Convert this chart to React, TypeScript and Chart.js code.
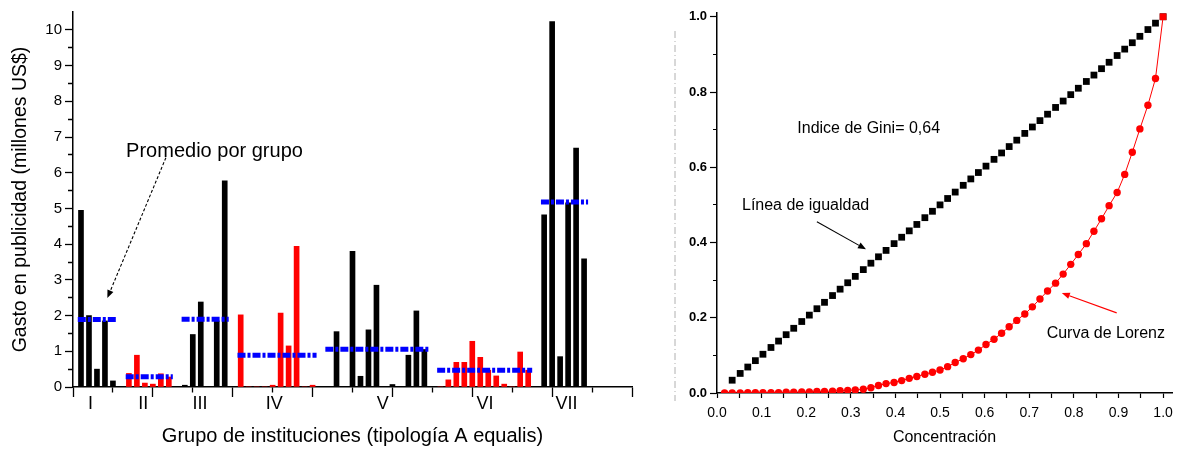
import React, { useEffect, useRef } from 'react';
import { Chart, registerables } from 'chart.js';

Chart.register(...registerables);

const FONT = '"Liberation Sans", Arial, Helvetica, sans-serif';

// ---------- Left panel: gasto en publicidad por institución ----------
const groupNames = ['I', 'II', 'III', 'IV', 'V', 'VI', 'VII'];
const gastoGrupoI = [4.95, 2.0, 0.5, 1.85, 0.17];
const gastoGrupoII = [0.38, 0.89, 0.11, 0.08, 0.37, 0.28];
const gastoGrupoIII = [0.05, 1.47, 2.38, 0, 1.85, 5.77];
const gastoGrupoIV = [2.02, 0, 0, 0, 0.05, 2.07, 1.15, 3.94, 0, 0.05];
const gastoGrupoV = [0, 1.55, 0, 3.8, 0.3, 1.6, 2.85, 0, 0.07, 0, 0.89, 2.13, 1.05];
const gastoGrupoVI = [0, 0.2, 0.69, 0.69, 1.28, 0.83, 0.47, 0.31, 0.08, 0, 0.98, 0.47];
const gastoGrupoVII = [4.82, 10.23, 0.85, 5.16, 6.69, 3.59];
const gastoPorGrupo = [gastoGrupoI, gastoGrupoII, gastoGrupoIII, gastoGrupoIV, gastoGrupoV, gastoGrupoVI, gastoGrupoVII];
const promedioPorGrupo = [1.89, 0.29, 1.9, 0.89, 1.06, 0.47, 5.18];
const groupLabelAt = [2.2, 8.8, 15.9, 25.2, 38.8, 51.6, 61.8];
const gastoYTicks = [0, 0.5, 1, 1.5, 2, 2.5, 3, 3.5, 4, 4.5, 5, 5.5, 6, 6.5, 7, 7.5, 8, 8.5, 9, 9.5, 10];
const slotXTicks = [0, 5, 10, 15, 20, 25, 30, 35, 40, 45, 50, 55, 60, 65, 70];

// ---------- Right panel: curva de Lorenz ----------
const poblacionAcum = [
  0.017, 0.034, 0.052, 0.069, 0.086, 0.103, 0.121, 0.138, 0.155, 0.172,
  0.190, 0.207, 0.224, 0.241, 0.259, 0.276, 0.293, 0.310, 0.328, 0.345,
  0.362, 0.379, 0.397, 0.414, 0.431, 0.448, 0.466, 0.483, 0.500, 0.517,
  0.534, 0.552, 0.569, 0.586, 0.603, 0.621, 0.638, 0.655, 0.672, 0.690,
  0.707, 0.724, 0.741, 0.759, 0.776, 0.793, 0.810, 0.828, 0.845, 0.862,
  0.879, 0.897, 0.914, 0.931, 0.948, 0.966, 0.983, 1.000,
];
const gastoAcumLorenz = [
  0, 0, 0, 0.001, 0.001, 0.001, 0.001, 0.001, 0.002, 0.002,
  0.003, 0.003, 0.004, 0.004, 0.005, 0.006, 0.007, 0.008, 0.010, 0.014,
  0.020, 0.025, 0.028, 0.033, 0.039, 0.044, 0.050, 0.055, 0.061, 0.070,
  0.081, 0.091, 0.102, 0.114, 0.129, 0.143, 0.159, 0.176, 0.193, 0.210,
  0.229, 0.250, 0.271, 0.292, 0.316, 0.342, 0.368, 0.397, 0.430, 0.463,
  0.498, 0.533, 0.581, 0.640, 0.702, 0.765, 0.836, 1.000,
];
const lorenzXTicks = [0, 0.05, 0.1, 0.15, 0.2, 0.25, 0.3, 0.35, 0.4, 0.45, 0.5, 0.55, 0.6, 0.65, 0.7, 0.75, 0.8, 0.85, 0.9, 0.95, 1.0];
const lorenzYTicks = [0, 0.1, 0.2, 0.3, 0.4, 0.5, 0.6, 0.7, 0.8, 0.9, 1.0];

type Note = { text: string; x: number; y: number; size: number };
type Arrow = { from: [number, number]; to: [number, number]; color: string; dash: number[] };

const leftNotes: Note[] = [{ text: 'Promedio por grupo', x: 6.65, y: 6.6, size: 20 }];
const leftArrows: Arrow[] = [{ from: [11.63, 6.42], to: [4.3, 2.49], color: '#000', dash: [3, 2] }];

const rightNotes: Note[] = [
  { text: 'Indice de Gini= 0,64', x: 0.18, y: 0.704, size: 16 },
  { text: 'Línea de igualdad', x: 0.056, y: 0.499, size: 16 },
  { text: 'Curva de Lorenz', x: 0.739, y: 0.159, size: 16 },
];
const rightArrows: Arrow[] = [
  { from: [0.224, 0.455], to: [0.334, 0.382], color: '#000', dash: [] },
  { from: [0.896, 0.213], to: [0.773, 0.266], color: '#ff0000', dash: [] },
];

function drawArrow(ctx: CanvasRenderingContext2D, x1: number, y1: number, x2: number, y2: number, color: string, dash: number[]) {
  const head = 8;
  const half = 3.2;
  const ang = Math.atan2(y2 - y1, x2 - x1);
  const bx = x2 - head * Math.cos(ang);
  const by = y2 - head * Math.sin(ang);
  ctx.save();
  ctx.strokeStyle = color;
  ctx.fillStyle = color;
  ctx.lineWidth = 1.1;
  ctx.setLineDash(dash);
  ctx.beginPath();
  ctx.moveTo(x1, y1);
  ctx.lineTo(bx, by);
  ctx.stroke();
  ctx.setLineDash([]);
  ctx.beginPath();
  ctx.moveTo(x2, y2);
  ctx.lineTo(bx + half * Math.sin(ang), by - half * Math.cos(ang));
  ctx.lineTo(bx - half * Math.sin(ang), by + half * Math.cos(ang));
  ctx.closePath();
  ctx.fill();
  ctx.restore();
}

function notesPlugin(id: string, notes: Note[], arrows: Arrow[], extra?: (chart: any) => void) {
  return {
    id,
    afterDatasetsDraw(chart: any) {
      const { ctx } = chart;
      const xs = chart.scales.x;
      const ys = chart.scales.y;
      if (extra) extra(chart);
      arrows.forEach((a) =>
        drawArrow(ctx, xs.getPixelForValue(a.from[0]), ys.getPixelForValue(a.from[1]), xs.getPixelForValue(a.to[0]), ys.getPixelForValue(a.to[1]), a.color, a.dash)
      );
      notes.forEach((n) => {
        ctx.save();
        ctx.font = `${n.size}px ${FONT}`;
        ctx.fillStyle = '#000';
        ctx.textAlign = 'left';
        ctx.textBaseline = 'middle';
        ctx.fillText(n.text, xs.getPixelForValue(n.x), ys.getPixelForValue(n.y));
        ctx.restore();
      });
    },
  };
}

function buildLeftDatasets() {
  const bars: any[] = [];
  const means: any[] = [];
  let slot = 1;
  gastoPorGrupo.forEach((vals, g) => {
    const start = slot;
    const end = slot + vals.length - 1;
    const color = g % 2 === 0 ? '#000000' : '#ff0000';
    bars.push({
      type: 'bar',
      label: groupNames[g],
      data: vals.map((v, k) => ({ x: start + k, y: v })),
      backgroundColor: color,
      borderWidth: 0,
      barThickness: 5,
      grouped: false,
      order: 2,
    });
    means.push({
      type: 'line',
      label: 'Promedio ' + groupNames[g],
      data: [
        { x: start - 0.4, y: promedioPorGrupo[g] },
        { x: end + 0.5, y: promedioPorGrupo[g] },
      ],
      borderColor: '#0000ff',
      borderWidth: 5,
      borderDash: [8, 2, 3, 2],
      pointRadius: 0,
      fill: false,
      order: 1,
    });
    slot = end + 2;
  });
  return [...means, ...bars];
}

function LeftChart() {
  const ref = useRef<HTMLCanvasElement>(null);
  useEffect(() => {
    const chart = new Chart(ref.current as HTMLCanvasElement, {
      type: 'bar',
      data: { datasets: buildLeftDatasets() },
      options: {
        responsive: false,
        animation: false,
        layout: { padding: { top: 12, right: 18, left: 0, bottom: 0 } },
        plugins: { legend: { display: false }, tooltip: { enabled: false } },
        scales: {
          x: {
            type: 'linear',
            min: 0,
            max: 70,
            offset: false,
            afterBuildTicks: (s: any) => {
              s.ticks = [...slotXTicks, ...groupLabelAt].sort((a, b) => a - b).map((v) => ({ value: v }));
            },
            afterFit: (s: any) => {
              s.height = 63;
            },
            ticks: {
              autoSkip: false,
              maxRotation: 0,
              padding: -2,
              color: '#000',
              font: { family: FONT, size: 18, lineHeight: 1 },
              callback: (v: any) => {
                const i = groupLabelAt.indexOf(v);
                return i >= 0 ? groupNames[i] : '';
              },
            },
            grid: {
              drawOnChartArea: false,
              offset: false,
              tickLength: 10,
              tickWidth: 1.3,
              tickColor: (c: any) => (c.tick && groupLabelAt.includes(c.tick.value) ? 'rgba(0,0,0,0)' : '#000'),
              tickBorderDash: (c: any) => (c.tick && c.tick.value % 10 === 5 ? [5, 100] : []),
            },
            border: { display: true, color: '#000', width: 1.5 },
            title: {
              display: true,
              text: 'Grupo de instituciones (tipología A equalis)',
              color: '#000',
              font: { family: FONT, size: 20 },
              padding: { top: 0, bottom: 2 },
            },
          },
          y: {
            type: 'linear',
            min: 0,
            max: 10.5,
            afterBuildTicks: (s: any) => {
              s.ticks = gastoYTicks.map((v) => ({ value: v }));
            },
            afterFit: (s: any) => {
              s.width = 73;
            },
            ticks: {
              autoSkip: false,
              padding: 3,
              color: '#000',
              font: { family: FONT, size: 15 },
              callback: (v: any) => (Number.isInteger(v) ? String(v) : ''),
            },
            grid: {
              drawOnChartArea: false,
              tickLength: 8,
              tickWidth: 1.3,
              tickColor: '#000',
              tickBorderDash: (c: any) => (c.tick && !Number.isInteger(c.tick.value) ? [0, 3, 5, 100] : []),
            },
            border: { display: true, color: '#000', width: 1.5 },
            title: {
              display: true,
              text: 'Gasto en publicidad (millones US$)',
              color: '#000',
              font: { family: FONT, size: 19.5 },
              padding: { top: 9, bottom: 0 },
            },
          },
        },
      } as any,
      plugins: [notesPlugin('leftNotes', leftNotes, leftArrows)],
    } as any);
    return () => chart.destroy();
  }, []);
  return <canvas ref={ref} width={650} height={450} style={{ position: 'absolute', left: 0, top: 0, width: 650, height: 450 }} />;
}

function RightChart() {
  const ref = useRef<HTMLCanvasElement>(null);
  useEffect(() => {
    const last = gastoAcumLorenz.length - 1;
    const chart = new Chart(ref.current as HTMLCanvasElement, {
      type: 'line',
      data: {
        datasets: [
          {
            label: 'Curva de Lorenz',
            data: poblacionAcum.map((x, i) => ({ x, y: gastoAcumLorenz[i] })),
            borderColor: '#ff0000',
            borderWidth: 1,
            backgroundColor: '#ff0000',
            pointBackgroundColor: '#ff0000',
            pointBorderWidth: 0,
            pointStyle: (c: any) => (c.dataIndex === last ? 'rect' : 'circle'),
            pointRadius: (c: any) => (c.dataIndex === last ? 4.8 : 3.7),
            tension: 0,
            fill: false,
          },
          {
            label: 'Línea de igualdad',
            data: poblacionAcum.slice(1).map((x) => ({ x, y: x })),
            showLine: false,
            borderColor: '#000',
            backgroundColor: '#000',
            pointBackgroundColor: '#000',
            pointBorderWidth: 0,
            pointStyle: 'rect',
            pointRadius: 4.8,
            fill: false,
          },
        ],
      },
      options: {
        responsive: false,
        animation: false,
        layout: { padding: { top: 13, right: 9, left: 0, bottom: 0 } },
        plugins: { legend: { display: false }, tooltip: { enabled: false } },
        scales: {
          x: {
            type: 'linear',
            min: 0,
            max: 1.02,
            afterBuildTicks: (s: any) => {
              s.ticks = lorenzXTicks.map((v) => ({ value: v }));
            },
            afterFit: (s: any) => {
              s.height = 57;
            },
            ticks: {
              autoSkip: false,
              maxRotation: 0,
              padding: 8,
              color: '#000',
              font: { family: FONT, size: 14, lineHeight: 1 },
              callback: (v: any) => (Math.round(v * 100) % 10 === 0 ? Number(v).toFixed(1) : ''),
            },
            grid: { drawOnChartArea: false, tickLength: 5, tickWidth: 1.2, tickColor: '#000' },
            border: { display: true, color: '#000', width: 1.5 },
            title: {
              display: true,
              text: 'Concentración',
              color: '#000',
              font: { family: FONT, size: 16 },
              padding: { top: 0, bottom: 3 },
            },
          },
          y: {
            type: 'linear',
            min: 0,
            max: 1.01,
            afterBuildTicks: (s: any) => {
              s.ticks = lorenzYTicks.map((v) => ({ value: v }));
            },
            afterFit: (s: any) => {
              s.width = 67;
            },
            ticks: {
              autoSkip: false,
              padding: 3,
              color: '#000',
              font: { family: FONT, size: 13, weight: 'bold' },
              callback: (v: any) => (Math.round(v * 10) % 2 === 0 ? Number(v).toFixed(1) : ''),
            },
            grid: {
              drawOnChartArea: false,
              tickLength: 7,
              tickWidth: 1.2,
              tickColor: '#000',
              tickBorderDash: (c: any) => (c.tick && Math.round(c.tick.value * 10) % 2 === 1 ? [0, 3, 4, 50] : []),
            },
            border: { display: true, color: '#000', width: 1.5 },
          },
        },
      } as any,
      plugins: [
        notesPlugin('rightNotes', rightNotes, rightArrows, (chart: any) => {
          const { ctx, chartArea } = chart;
          ctx.save();
          ctx.strokeStyle = '#b0b0b0';
          ctx.lineWidth = 1;
          ctx.setLineDash([7, 3, 1, 3]);
          ctx.beginPath();
          ctx.moveTo(chartArea.left - 42, chartArea.top + 18);
          ctx.lineTo(chartArea.left - 42, chartArea.bottom + 8);
          ctx.stroke();
          ctx.restore();
        }),
      ],
    } as any);
    return () => chart.destroy();
  }, []);
  return <canvas ref={ref} width={531} height={450} style={{ position: 'absolute', left: 650, top: 0, width: 531, height: 450 }} />;
}

export default function App() {
  return (
    <div style={{ position: 'absolute', left: 0, top: 0, width: 1181, height: 450, background: '#fff', overflow: 'hidden' }}>
      <LeftChart />
      <RightChart />
    </div>
  );
}
